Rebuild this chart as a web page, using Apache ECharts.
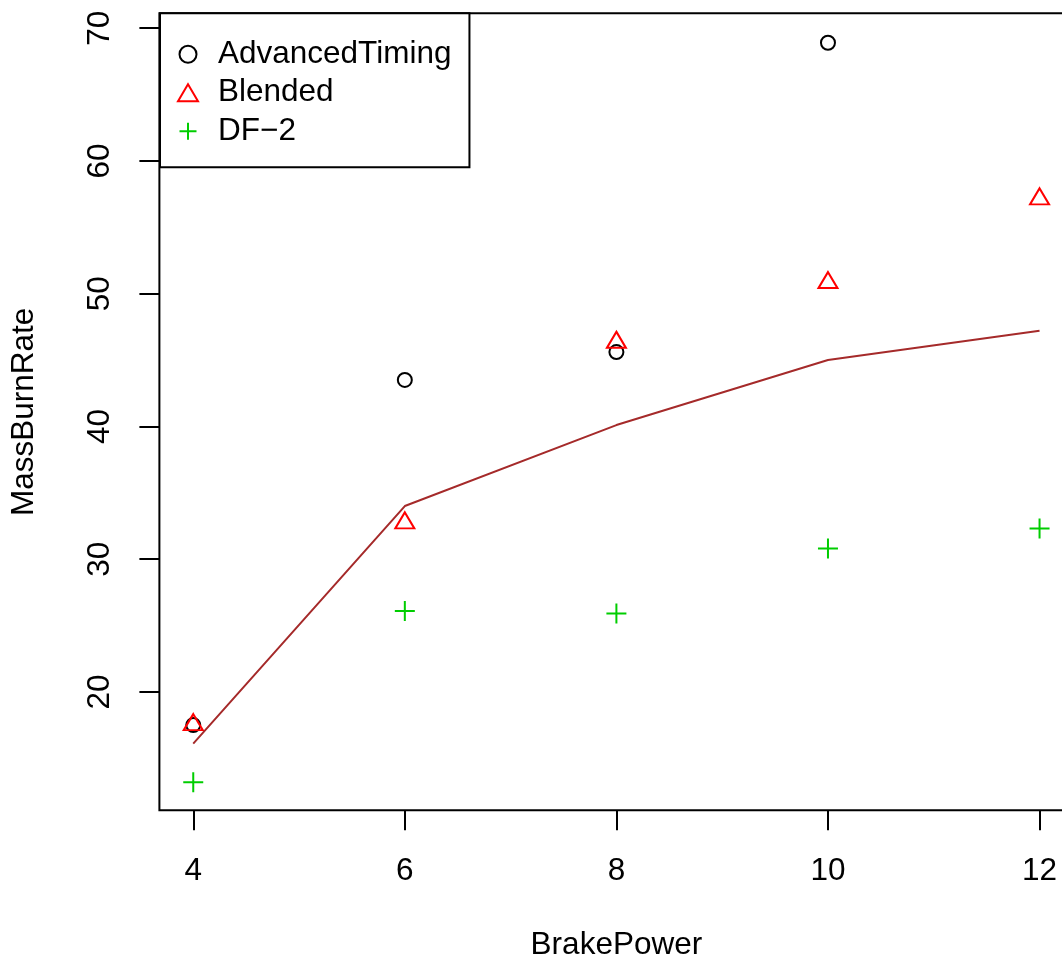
<!DOCTYPE html>
<html>
<head>
<meta charset="utf-8">
<script src="https://cdn.jsdelivr.net/npm/echarts@6/dist/echarts.min.js"></script>
<style>
  html, body { margin: 0; padding: 0; background: #fff; }
  #main { width: 1062px; height: 960px; }
</style>
</head>
<body>
<div id="main"></div>
<script>
// data
const brakePower = [4, 6, 8, 10, 12]
const advancedTiming = [17.5, 43.5, 45.6, 68.9, null]
const blended = [17.5, 32.7, 46.3, 50.8, 57.1]
const df2 = [13.2, 26.1, 25.9, 30.8, 32.3]
const fitted = [16.1, 34.0, 40.1, 45.0, 47.2]
const xTicks = [4, 6, 8, 10, 12]
const yTicks = [20, 30, 40, 50, 60, 70]

const font = 'Liberation Sans, Arial, sans-serif'
const fs = 31.5
const triPath = 'path://M10,0L20,17L0,17Z'
const plusPath = 'path://M0,10L20,10M10,0L10,20'

function pairs (ys) {
  return brakePower.map((x, i) => [x, ys[i]]).filter(p => p[1] !== null)
}

const myChart = echarts.init(document.getElementById('main'), null, { renderer: 'canvas' })
const option = {
  backgroundColor: '#fff',
  animation: false,
  textStyle: { fontFamily: font },
  grid: {
    left: 159.4,
    top: 13.3,
    width: 914,
    height: 797,
    show: true,
    borderColor: '#000',
    borderWidth: 2,
    containLabel: false,
    outerBoundsMode: 'none'
  },
  legend: {
    orient: 'vertical',
    left: 160,
    top: 13.3,
    padding: [25, 18, 20, 17],
    itemWidth: 50,
    itemHeight: 17,
    itemGap: 6.5,
    symbolKeepAspect: true,
    borderColor: '#000',
    borderWidth: 2,
    backgroundColor: '#fff',
    textStyle: { fontSize: fs, color: '#000', fontFamily: font },
    data: [
      { name: 'AdvancedTiming' },
      { name: 'Blended', icon: triPath },
      { name: 'DF\u22122', icon: plusPath }
    ]
  },
  xAxis: {
    type: 'value',
    min: 3.68,
    max: 12.32,
    name: 'BrakePower',
    nameLocation: 'middle',
    nameGap: 119,
    nameTextStyle: { fontSize: fs, color: '#000', fontFamily: font },
    axisLine: { show: false },
    // 刻度朝外
    axisTick: {
      show: true,
      inside: false,
      length: 20,
      customValues: xTicks,
      lineStyle: { color: '#000', width: 2 }
    },
    axisLabel: {
      customValues: xTicks,
      margin: 45,
      fontSize: fs,
      color: '#000',
      fontFamily: font
    },
    splitLine: { show: false }
  },
  yAxis: {
    type: 'value',
    min: 11.08,
    max: 71.12,
    name: 'MassBurnRate',
    nameLocation: 'middle',
    nameGap: 119,
    nameTextStyle: { fontSize: fs, color: '#000', fontFamily: font },
    axisLine: { show: false },
    axisTick: {
      show: true,
      inside: false,
      length: 20,
      customValues: yTicks,
      lineStyle: { color: '#000', width: 2 }
    },
    axisLabel: {
      customValues: yTicks,
      rotate: 90,
      margin: 43,
      fontSize: fs,
      color: '#000',
      fontFamily: font
    },
    splitLine: { show: false }
  },
  series: [
    {
      name: 'AdvancedTiming',
      type: 'scatter',
      symbol: 'circle',
      symbolSize: 14,
      itemStyle: { color: 'transparent', borderColor: '#000', borderWidth: 2, opacity: 1 },
      data: pairs(advancedTiming)
    },
    {
      name: 'Blended',
      type: 'scatter',
      symbol: triPath,
      symbolSize: [19, 16],
      symbolKeepAspect: false,
      symbolOffset: [0, -3],
      itemStyle: { color: 'transparent', borderColor: '#FF0000', borderWidth: 2, opacity: 1 },
      data: pairs(blended)
    },
    {
      name: 'DF\u22122',
      type: 'scatter',
      symbol: plusPath,
      symbolSize: 20,
      itemStyle: { color: 'transparent', borderColor: '#00CD00', borderWidth: 2, opacity: 1 },
      data: pairs(df2)
    },
    {
      name: 'fit',
      type: 'line',
      symbol: 'none',
      lineStyle: { color: '#A52A2A', width: 2 },
      itemStyle: { color: '#A52A2A' },
      data: pairs(fitted)
    }
  ]
}
option && myChart.setOption(option)
</script>
</body>
</html>
